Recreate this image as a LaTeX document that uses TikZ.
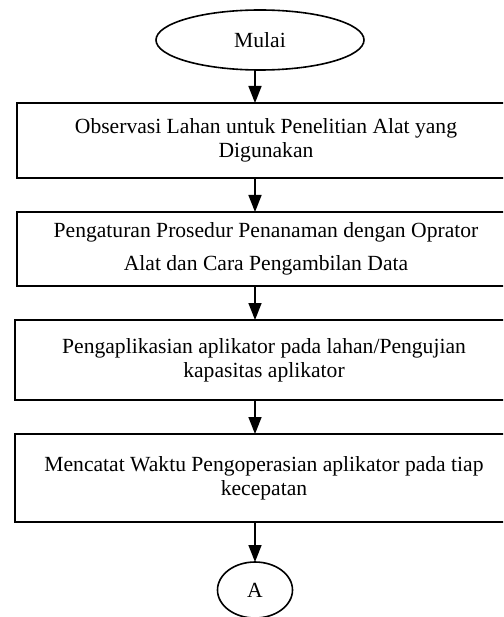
\documentclass[tikz,border=0pt]{standalone}
\usepackage{fontspec}
\setmainfont{Liberation Serif}
\usetikzlibrary{shapes.geometric,positioning,arrows.meta}
\tikzstyle{proses} = [draw, line width=1.8pt, rectangle, minimum width=498pt, align=center, inner sep=0pt, outer sep=0pt]
\tikzstyle{terminal} = [draw, line width=1.6pt, ellipse, inner sep=0pt, outer sep=0pt]

\begin{document}
\begin{tikzpicture}[>={Triangle[length=17pt,width=13pt]},line width=1.6pt,font=\fontsize{21.6}{24}\selectfont]
		\useasboundingbox (0,0) rectangle (503pt,-617pt);
		\clip (0,0) rectangle (503pt,-617pt);
		\node (mulai) [terminal, minimum width=208pt, minimum height=60pt] at (260pt,-40pt) {Mulai};
		\node (obs) [proses, minimum height=75pt, below=33pt of mulai, xshift=6pt] {Observasi Lahan untuk Penelitian Alat yang\\Digunakan};
		\node (atur) [proses, minimum height=74pt, below=34pt of obs] {Pengaturan Prosedur Penanaman dengan Oprator\\[9pt]Alat dan Cara Pengambilan Data};
		\node (apl) [proses, minimum height=80pt, below=34pt of atur, xshift=-2pt] {Pengaplikasian aplikator pada lahan/Pengujian\hspace{22pt}\\kapasitas aplikator\hspace{22pt}};
		\node (catat) [proses, minimum height=88pt, below=34pt of apl] {Mencatat Waktu Pengoperasian aplikator pada tiap\\kecepatan};
		\node (akhir) [terminal, minimum width=75pt, minimum height=56pt, below=40pt of catat, xshift=-9pt] {A};
		\draw[->] (mulai.south -| akhir) -- (obs.north -| akhir);
		\draw[->] (obs.south -| akhir) -- (atur.north -| akhir);
		\draw[->] (atur.south -| akhir) -- (apl.north -| akhir);
		\draw[->] (apl.south -| akhir) -- (catat.north -| akhir);
		\draw[->] (catat.south -| akhir) -- (akhir);
\end{tikzpicture}
\end{document}
